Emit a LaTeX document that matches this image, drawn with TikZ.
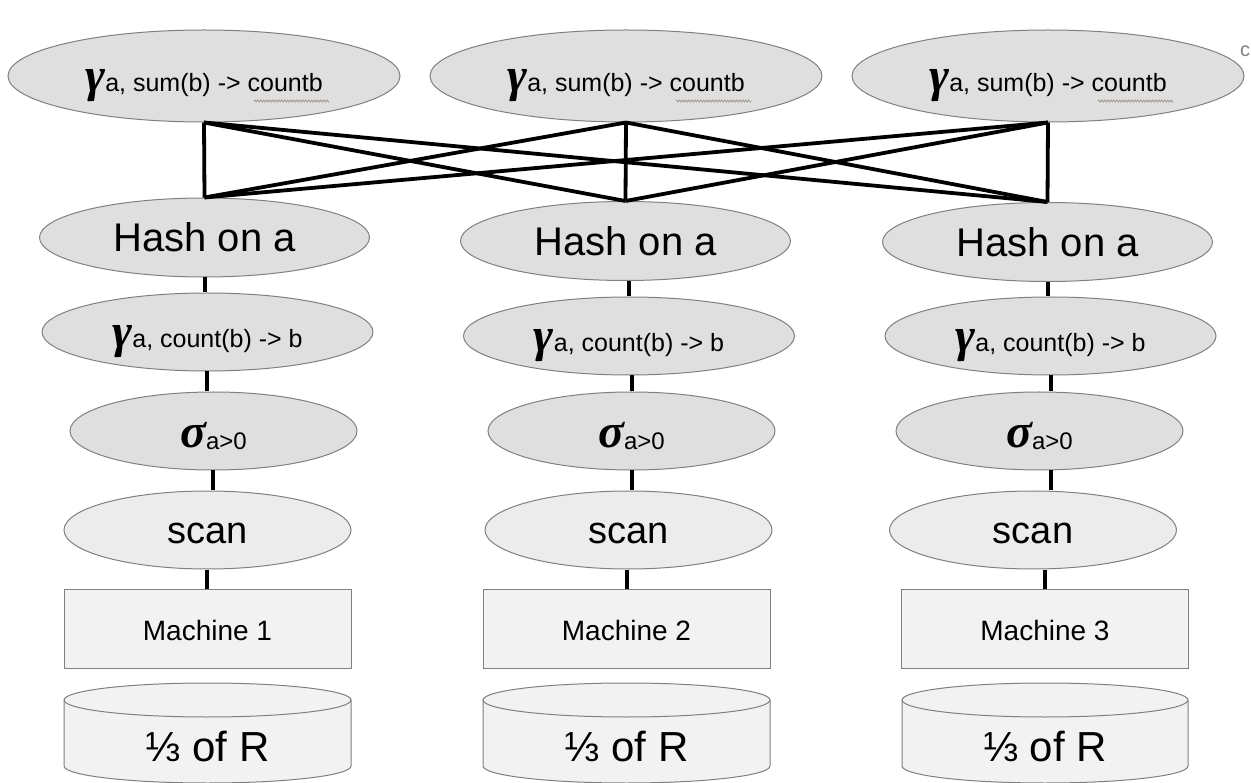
\documentclass[tikz,border=0pt]{standalone}
\usepackage{fontspec}
\setmainfont{Liberation Sans}
\newfontfamily\grkfont{Liberation Serif}
\usetikzlibrary{shapes.geometric,decorations.pathmorphing}
\definecolor{edgegray}{RGB}{128,128,128}
\definecolor{ovalfill}{RGB}{223,223,223}
\definecolor{scanfill}{RGB}{236,236,236}
\definecolor{boxfill}{RGB}{242,242,242}
\definecolor{wavecol}{RGB}{160,150,140}
\newcommand{\myfs}[1]{\fontsize{#1}{#1}\selectfont}
\newcommand{\mygreek}[2]{{\grkfont\bfseries\itshape\myfs{#1}#2}}
\newcommand{\gtxt}[1]{\mygreek{48}{γ}{\myfs{25}#1}}
\newcommand{\stxt}{\mygreek{48}{σ}\raisebox{-2pt}{\myfs{24}a>0}}
\begin{document}
\begin{tikzpicture}[x=1pt,y=-1pt,
  oval/.style={ellipse, draw=edgegray, line width=1pt, fill=ovalfill, inner sep=0pt},
  topoval/.style={oval, minimum width=392pt, minimum height=92pt, text height=32pt, text depth=0pt},
  hashoval/.style={oval, minimum width=330pt, minimum height=79pt, text height=29pt, text depth=0pt, font=\myfs{40}},
  gcoval/.style={oval, minimum width=331pt, minimum height=78pt, text height=32pt, text depth=0pt},
  sigoval/.style={oval, minimum width=287pt, minimum height=78pt, text height=34pt, text depth=0pt},
  scanoval/.style={oval, fill=scanfill, minimum width=287pt, minimum height=78pt, text height=26pt, text depth=0pt, font=\myfs{38}},
  machbox/.style={rectangle, draw=edgegray, line width=1pt, fill=boxfill, minimum width=287pt, minimum height=79pt, inner sep=0pt, text height=23pt, text depth=0pt, font=\myfs{28}},
  cylbody/.style={draw=edgegray, line width=1pt, fill=boxfill},
  cyltext/.style={anchor=base, font=\myfs{42}, inner sep=0pt},
  conn/.style={line width=3.8pt, black, line join=miter},
  wavy/.style={draw=wavecol, line width=0.8pt, decorate, decoration={zigzag, segment length=3pt, amplitude=1pt}},
]
\useasboundingbox (0,0) rectangle (1251,783);
\fill[white] (0,0) rectangle (1251,783);

% top aggregation
\node[topoval] (topA) at (204,76) {\gtxt{a, sum(b) -> countb}};
\node[topoval] (topB) at (626,76) {\gtxt{a, sum(b) -> countb}};
\node[topoval] (topC) at (1048,76) {\gtxt{a, sum(b) -> countb}};
\foreach \n in {topA,topB,topC}
  \draw[wavy] ([xshift=50pt,yshift=-25pt]\n.center) -- ++(75,0);

% hash
\node[hashoval] (hashA) at (204.5,237.5) {Hash on a};
\node[hashoval] (hashB) at (625.5,241) {Hash on a};
\node[hashoval] (hashC) at (1047.5,242) {Hash on a};

% partial aggregation
\node[gcoval] (gcA) at (207.5,332) {\gtxt{a, count(b) -> b}};
\node[gcoval] (gcB) at (629,336) {\gtxt{a, count(b) -> b}};
\node[gcoval] (gcC) at (1050.5,336) {\gtxt{a, count(b) -> b}};

% selection
\node[sigoval] (sigA) at (213.5,431) {\stxt};
\node[sigoval] (sigB) at (631.5,431) {\stxt};
\node[sigoval] (sigC) at (1039.5,431) {\stxt};

% scan
\node[scanoval] (scanA) at (207.5,530) {scan};
\node[scanoval] (scanB) at (628.5,530) {scan};
\node[scanoval] (scanC) at (1033,530) {scan};

% machines
\node[machbox] (machA) at (207.5,628.5) {Machine 1};
\node[machbox] (machB) at (626.5,628.5) {Machine 2};
\node[machbox] (machC) at (1045,628.5) {Machine 3};

% cylinders
\foreach \L/\R in {64/351,483/770,902/1188}{
  \pgfmathsetmacro{\rx}{(\R-\L)/2}
  \filldraw[cylbody] (\L,700) -- (\L,766) arc[start angle=180,end angle=360,x radius=\rx pt,y radius=17pt]
     -- (\R,700) arc[start angle=0,end angle=180,x radius=\rx pt,y radius=17pt] -- cycle;
  \draw[cylbody,fill=none] (\L,700) arc[start angle=180,end angle=360,x radius=\rx pt,y radius=17pt];
}
\node[cyltext] (partA) at (207.5,761) {⅓ of R};
\node[cyltext] (partB) at (626.5,761) {⅓ of R};
\node[cyltext] (partC) at (1045,761) {⅓ of R};

% exchange lines
\foreach \t in {topA,topB,topC}
  \foreach \h in {hashA,hashB,hashC}
    \draw[conn] (\t.south) -- (\h.north);

% vertical connectors
\newcommand{\vconn}[3]{\draw[conn] ([xshift=#3pt]#1.south) -- ([xshift=#3pt]#1.south |- #2.north);}
\vconn{hashA}{gcA}{0.5}
\vconn{gcA}{sigA}{-0.5}
\vconn{sigA}{scanA}{-0.5}
\vconn{scanA}{machA}{-0.5}
\vconn{hashB}{gcB}{3.5}
\vconn{gcB}{sigB}{3}
\vconn{sigB}{scanB}{0.5}
\vconn{scanB}{machB}{-1.5}
\vconn{hashC}{gcC}{0.5}
\vconn{gcC}{sigC}{0.5}
\vconn{sigC}{scanC}{11.5}
\vconn{scanC}{machC}{12}

% small character at the right edge
\node[anchor=base west, inner sep=0pt, font=\myfs{20}, text=gray] (edgec) at (1240,57) {c};
\end{tikzpicture}
\end{document}
